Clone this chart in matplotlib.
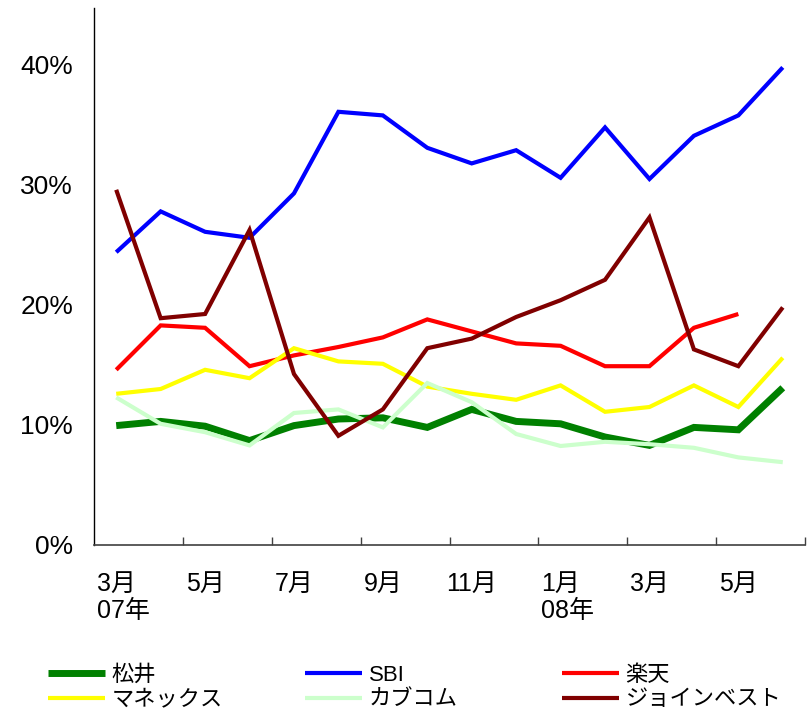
import matplotlib
matplotlib.use("Agg")
import matplotlib.pyplot as plt
from matplotlib.ticker import FixedLocator, NullFormatter

plt.rcParams['font.family'] = ['Liberation Sans', 'Noto Sans CJK JP', 'DejaVu Sans']

# 2007/3 - 2008/6, monthly share (%)
months = ['3月', '4月', '5月', '6月', '7月', '8月', '9月', '10月', '11月', '12月',
          '1月', '2月', '3月', '4月', '5月', '6月']
tick_months = ['3月', '5月', '7月', '9月', '11月', '1月', '3月', '5月']
year_labels = {0: '07年', 10: '08年'}

matsui = [9.95, 10.3, 9.9, 8.7, 9.95, 10.5, 10.6, 9.8, 11.3, 10.3, 10.1, 9.0, 8.3, 9.8, 9.6, 13.1]
sbi = [24.4, 27.8, 26.1, 25.6, 29.3, 36.1, 35.8, 33.1, 31.8, 32.9, 30.6, 34.8, 30.5, 34.1, 35.8, 39.8]
rakuten = [14.6, 18.3, 18.1, 14.9, 15.8, 16.5, 17.3, 18.8, 17.8, 16.8, 16.6, 14.9, 14.9, 18.1, 19.25, None]
monex = [12.6, 13.0, 14.6, 13.9, 16.4, 15.3, 15.1, 13.2, 12.6, 12.1, 13.3, 11.1, 11.5, 13.3, 11.5, 15.6]
kabucom = [12.3, 10.1, 9.4, 8.3, 11.0, 11.3, 9.8, 13.5, 11.9, 9.25, 8.25, 8.6, 8.4, 8.1, 7.3, 6.9]
joinvest = [29.6, 18.9, 19.25, 26.25, 14.25, 9.1, 11.3, 16.4, 17.2, 19.0, 20.4, 22.1, 27.3, 16.3, 14.9, 19.8]

series = [
    ('松井', matsui, '#008000', 5.0),
    ('SBI', sbi, '#0000FF', 3.0),
    ('楽天', rakuten, '#FF0000', 3.0),
    ('マネックス', monex, '#FFFF00', 3.0),
    ('カブコム', kabucom, '#CCFFCC', 3.0),
    ('ジョインベスト', joinvest, '#800000', 3.0),
]

fig = plt.figure(figsize=(8.1, 7.12), dpi=100)
ax = fig.add_axes([94 / 810, 1 - 545 / 712, (805 - 94) / 810, (545 - 8) / 712])

x = list(range(len(months)))
lines = {}
for name, vals, color, lw in series:
    xs = [i for i, v in zip(x, vals) if v is not None]
    ys = [v for v in vals if v is not None]
    ln, = ax.plot(xs, ys, color=color, lw=lw, label=name, solid_joinstyle='miter',
                  solid_capstyle='butt')
    lines[name] = ln

ax.set_xlim(-0.5, len(months) - 0.5)
ax.set_ylim(0, 44.75)

ax.set_yticks([0, 10, 20, 30, 40])
ax.set_yticklabels(['0%', '10%', '20%', '30%', '40%'])
ax.tick_params(axis='y', length=0, pad=15, labelsize=19)

# category boundary ticks every two months
ax.xaxis.set_major_locator(FixedLocator([i + 1.5 for i in range(0, 16, 2)]))
ax.xaxis.set_major_formatter(NullFormatter())
ax.tick_params(axis='x', direction='in', length=6, width=1, color='#404040')

for i, lab in zip(range(0, 16, 2), tick_months):
    ax.text(i, -0.05, lab, transform=ax.get_xaxis_transform(), ha='center', va='top',
            fontsize=18)
for i, lab in year_labels.items():
    ax.text(i - 0.43, -0.1, lab, transform=ax.get_xaxis_transform(), ha='left', va='top',
            fontsize=18)

for s in ['top', 'right']:
    ax.spines[s].set_visible(False)
ax.spines['left'].set_linewidth(1)
ax.spines['bottom'].set_linewidth(1.2)
ax.spines['bottom'].set_color('#404040')

# legend: three columns, two rows
cols = [['松井', 'マネックス'], ['SBI', 'カブコム'], ['楽天', 'ジョインベスト']]
col_x = [48, 305, 562]
fs = 16
for names, cx in zip(cols, col_x):
    fig.legend([lines[n] for n in names], names, loc='upper left',
               bbox_to_anchor=(cx / 810, 1 - 665 / 712), frameon=False,
               borderpad=0, borderaxespad=0, fontsize=fs,
               handlelength=57 / (fs * 100 / 72), handletextpad=0.3,
               labelspacing=0.15)

fig.savefig('out.png', dpi=100)
